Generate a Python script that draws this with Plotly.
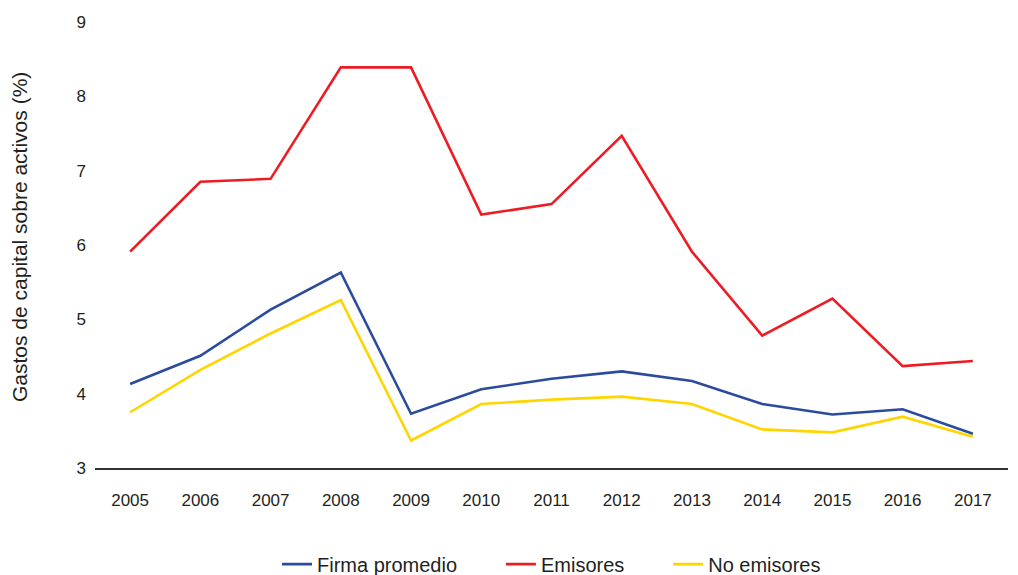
import plotly.graph_objects as go

years = ["2005", "2006", "2007", "2008", "2009", "2010", "2011", "2012", "2013", "2014", "2015", "2016", "2017"]
firma_promedio = [4.13, 4.51, 5.13, 5.63, 3.73, 4.06, 4.20, 4.30, 4.17, 3.86, 3.72, 3.79, 3.46]
emisores = [5.91, 6.85, 6.89, 8.39, 8.39, 6.41, 6.55, 7.47, 5.91, 4.78, 5.28, 4.37, 4.44]
no_emisores = [3.75, 4.32, 4.81, 5.26, 3.37, 3.86, 3.92, 3.96, 3.86, 3.52, 3.48, 3.69, 3.42]
y_ticks = [3, 4, 5, 6, 7, 8, 9]

font_family = "Liberation Sans, Arial, sans-serif"
text_color = "#231F20"
pad = "\u00a0" * 7

fig = go.Figure()
fig.add_trace(go.Scatter(x=years, y=firma_promedio, mode="lines", name="Firma promedio" + pad,
                         line=dict(color="#2B4C9C", width=2.6)))
fig.add_trace(go.Scatter(x=years, y=emisores, mode="lines", name="Emisores" + pad,
                         line=dict(color="#ED1C24", width=2.6)))
fig.add_trace(go.Scatter(x=years, y=no_emisores, mode="lines", name="No emisores",
                         line=dict(color="#FFD500", width=2.6)))

fig.add_annotation(text="Gastos de capital sobre activos (%)", textangle=-90,
                   xref="paper", yref="paper", x=-0.0821, y=0.518,
                   xanchor="center", yanchor="middle", showarrow=False,
                   font=dict(size=21, color=text_color, family=font_family))

fig.update_layout(
    width=1018, height=575,
    margin=dict(l=95, r=10, t=22, b=107),
    paper_bgcolor="white", plot_bgcolor="white",
    font=dict(family=font_family, color=text_color, size=17),
    showlegend=True,
    legend=dict(orientation="h", x=0.5, xanchor="center", xref="paper",
                y=0.019, yanchor="middle", yref="container",
                font=dict(size=20, color=text_color),
                bgcolor="rgba(0,0,0,0)"),
    xaxis=dict(type="category", range=[-0.5, 12.5], showgrid=False, zeroline=False,
               showline=True, linecolor="#333333", linewidth=1.5,
               ticks="", ticklabelstandoff=16, tickfont=dict(size=17)),
    yaxis=dict(range=[3, 9], tickvals=y_ticks, showgrid=False, zeroline=False,
               showline=False, ticks="", tickfont=dict(size=17), ticklabelstandoff=8),
)

fig.write_html("out.html")
